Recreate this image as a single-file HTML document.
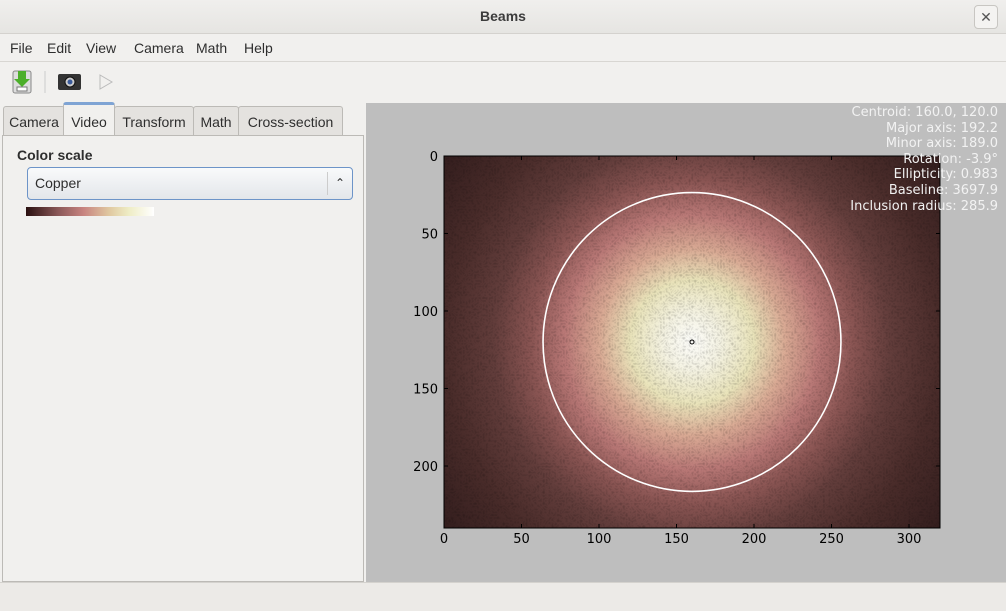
<!DOCTYPE html>
<html><head><meta charset="utf-8"><style>
body{margin:0;width:1006px;height:610px;overflow:hidden;font-family:"Liberation Sans","DejaVu Sans",sans-serif;background:#f1f0ee;position:relative}
.abs{position:absolute}
#title{left:0;top:0;width:1006px;height:33px;background:linear-gradient(#f0efed,#e6e5e2);border-bottom:1px solid #d4d2ce;text-align:center;line-height:33px;font-size:14px;font-weight:bold;color:#3c3c3c}
#close{right:8px;top:5px;width:22px;height:22px;border:1px solid #c8c6c2;border-radius:4px;background:#f4f3f1;text-align:center;line-height:22px;font-size:14px;color:#555}
#menu{left:0;top:34px;width:1006px;height:27px;border-bottom:1px solid #d8d6d2;font-size:14px;color:#2e2e2e}
#menu span{position:absolute;top:6px}
#toolbar{left:0;top:62px;height:40px;width:1006px}
.tab{top:106px;height:28px;border:1px solid #bcbab6;border-bottom:none;background:#e4e2df;font-size:14px;line-height:30px;text-align:center;color:#2e2e2e;border-radius:3px 3px 0 0}
#panel{left:2px;top:135px;width:360px;height:445px;border:1px solid #bcbab6;background:#f1f0ee}
#plotbg{left:366px;top:103px;width:640px;height:479px;background:#bebebe}
#status{left:0;top:582px;width:1006px;height:28px;background:#eceae7;border-top:1px solid #d4d2ce}
.info{right:8px;font-size:13px;color:#f2f2f2;text-align:right;font-family:"DejaVu Sans",sans-serif}
</style></head><body>
<div id="title" class="abs">Beams</div>
<div id="close" class="abs">✕</div>
<div id="menu" class="abs">
<span style="left:10px">File</span>
<span style="left:47px">Edit</span>
<span style="left:86px">View</span>
<span style="left:134px">Camera</span>
<span style="left:196px">Math</span>
<span style="left:244px">Help</span>
</div>
<div id="toolbar" class="abs">
<svg width="130" height="40">
<g><rect x="13" y="9" width="18" height="22" rx="2" fill="#ddd" stroke="#888"/><path d="M18 9h8v8h4l-8 8-8-8h4z" fill="#4caf2a"/><rect x="17" y="25" width="10" height="4" fill="#fff" stroke="#777"/></g>
<line x1="45" y1="9" x2="45" y2="31" stroke="#ccc"/>
<g><rect x="58" y="12" width="23" height="16" rx="2" fill="#333"/><circle cx="70" cy="20" r="5" fill="#ccc" stroke="#111"/><circle cx="70" cy="20" r="2.5" fill="#3a5a9a"/></g>
<path d="M100 13 L112 20 L100 27Z" fill="none" stroke="#bbb"/>
</svg></div>
<div class="abs tab" style="left:3px;width:60px">Camera</div>
<div class="abs tab" style="left:63px;width:50px;top:102px;height:33px;background:#f1f0ee;border-top:3px solid #7fa4d4;line-height:34px">Video</div>
<div class="abs tab" style="left:114px;width:78px">Transform</div>
<div class="abs tab" style="left:193px;width:44px">Math</div>
<div class="abs tab" style="left:238px;width:103px">Cross-section</div>
<div id="panel" class="abs">
<div class="abs" style="left:14px;top:11px;font-size:14px;font-weight:bold;color:#2e2e2e">Color scale</div>
<div class="abs" style="left:24px;top:31px;width:324px;height:31px;border:1px solid #6d94c8;border-radius:4px;background:linear-gradient(#f9fafb,#e3e6ea);font-size:14px;line-height:31px;color:#2e2e2e"><span style="margin-left:7px">Copper</span><span style="position:absolute;right:0;top:4px;height:23px;width:24px;border-left:1px solid #ccc;text-align:center;line-height:22px;font-size:12px">⌃<br></span></div>
<div class="abs" style="left:23px;top:71px;width:128px;height:9px;background:linear-gradient(90deg,#2a1010,#8a5858 25%,#c88480 45%,#e0c8a0 65%,#eeecc4 80%,#fff)"></div>
</div>
<div id="plotbg" class="abs"></div>
<svg class="abs" style="left:0;top:0" width="1006" height="610" id="chart">
<defs><radialGradient id="rg" gradientUnits="userSpaceOnUse" cx="692" cy="342" r="310">
<stop offset="0" stop-color="#fffffc"/><stop offset="0.09" stop-color="#f8f6e6"/><stop offset="0.2" stop-color="#ece6bc"/><stop offset="0.3" stop-color="#dcac96"/><stop offset="0.41" stop-color="#bc7a78"/><stop offset="0.52" stop-color="#8c5654"/><stop offset="0.64" stop-color="#643e3c"/><stop offset="0.8" stop-color="#4a2c2a"/><stop offset="1" stop-color="#341e1e"/></radialGradient>
<filter id="noise"><feTurbulence baseFrequency="0.35" numOctaves="1" seed="3"/><feColorMatrix values="0 0 0 0 0  0 0 0 0 0  0 0 0 0 0  0 0 0 0.3 0"/><feComposite in2="SourceGraphic" operator="in"/></filter></defs>
<g id="g"></g>
</svg>
<div class="abs info" style="top:105px;line-height:15.6px">
<div>Centroid: 160.0, 120.0</div>
<div>Major axis: 192.2</div>
<div>Minor axis: 189.0</div>
<div>Rotation: -3.9°</div>
<div>Ellipticity: 0.983</div>
<div>Baseline: 3697.9</div>
<div>Inclusion radius: 285.9</div>
</div>
<div id="status" class="abs"></div>
<script>
const xTicks=[0,50,100,150,200,250,300];
const yTicks=[0,50,100,150,200];
const xDomain=[0,320];
const yDomain=[0,240];
const centroid=[160,120];
const axesLen=[192.2,189.0];
const L=444,T=156,W=496,H=372;
const sx=v=>L+(v-xDomain[0])/(xDomain[1]-xDomain[0])*W;
const sy=v=>T+(v-yDomain[0])/(yDomain[1]-yDomain[0])*H;
const g=document.getElementById('g');const NS='http://www.w3.org/2000/svg';
function mk(t,a){const e=document.createElementNS(NS,t);for(const k in a)e.setAttribute(k,a[k]);g.appendChild(e);return e;}
let e=mk('rect',{x:L,y:T,width:W,height:H,fill:'url(#rg)'});


e=mk('rect',{x:L,y:T,width:W,height:H,fill:'#000',filter:'url(#noise)'});


e=mk('ellipse',{cx:sx(centroid[0]),cy:sy(centroid[1]),rx:axesLen[0]/2*W/(xDomain[1]-xDomain[0]),ry:axesLen[1]/2*H/(yDomain[1]-yDomain[0])*1.02,fill:'none',stroke:'#fff','stroke-width':1.6});


e=mk('circle',{cx:sx(centroid[0]),cy:sy(centroid[1]),r:2,fill:'none',stroke:'#000','stroke-width':1});


e=mk('rect',{x:L,y:T,width:W,height:H,fill:'none',stroke:'#000','stroke-width':1});


xTicks.forEach(v=>{const x=sx(v);
 let t=mk('line',{x1:x,x2:x,y1:T+H,y2:T+H-4,stroke:'#000'});
 
 
 t=mk('line',{x1:x,x2:x,y1:T,y2:T+4,stroke:'#000'});
 
 
 t=mk('text',{x:x,y:T+H+15,'text-anchor':'middle','font-size':13,fill:'#000','font-family':'DejaVu Sans, sans-serif'});t.textContent=v;
 
 });
yTicks.forEach(v=>{const y=sy(v);
 let t=mk('line',{x1:L,x2:L+4,y1:y,y2:y,stroke:'#000'});
 
 
 t=mk('line',{x1:L+W,x2:L+W-4,y1:y,y2:y,stroke:'#000'});
 
 
 t=mk('text',{x:L-6,y:y+5,'text-anchor':'end','font-size':13,fill:'#000','font-family':'DejaVu Sans, sans-serif'});t.textContent=v;
 
 });
</script>
</body></html>
